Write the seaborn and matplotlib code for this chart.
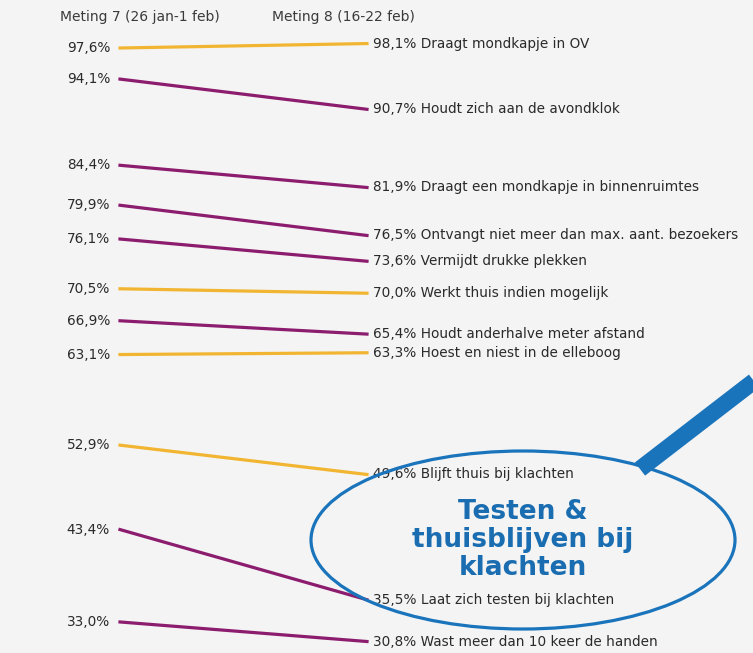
import pandas as pd
import seaborn as sns
import matplotlib.pyplot as plt
from matplotlib.patches import Ellipse

# Gegevens: naleving maatregelen, meting 7 en meting 8
maatregelen = [
    'Draagt mondkapje in OV',
    'Houdt zich aan de avondklok',
    'Draagt een mondkapje in binnenruimtes',
    'Ontvangt niet meer dan max. aant. bezoekers',
    'Vermijdt drukke plekken',
    'Werkt thuis indien mogelijk',
    'Houdt anderhalve meter afstand',
    'Hoest en niest in de elleboog',
    'Blijft thuis bij klachten',
    'Laat zich testen bij klachten',
    'Wast meer dan 10 keer de handen',
]
meting7 = [97.6, 94.1, 84.4, 79.9, 76.1, 70.5, 66.9, 63.1, 52.9, 43.4, 33.0]
meting8 = [98.1, 90.7, 81.9, 76.5, 73.6, 70.0, 65.4, 63.3, 49.6, 35.5, 30.8]
kleurgroep = ['oranje', 'paars', 'paars', 'paars', 'paars', 'oranje',
              'paars', 'oranje', 'oranje', 'paars', 'paars']
kopjes = ['Meting 7 (26 jan-1 feb)', 'Meting 8 (16-22 feb)']

kleuren = {'oranje': '#F2B532', 'paars': '#8C1C6E'}
palette = {m: kleuren[k] for m, k in zip(maatregelen, kleurgroep)}

# Lange tabel voor seaborn
df = pd.DataFrame({
    'maatregel': maatregelen * 2,
    'meting': [0] * len(maatregelen) + [1] * len(maatregelen),
    'waarde': meting7 + meting8,
})

def pct(v):
    return f'{v:.1f}'.replace('.', ',') + '%'

W, H = 753, 653
fig = plt.figure(figsize=(W / 100, H / 100), dpi=100, facecolor='#F4F4F4')
ax = fig.add_axes([0, 0, 1, 1])
ax.set_facecolor('#F4F4F4')

sns.lineplot(data=df, x='meting', y='waarde', hue='maatregel', palette=palette,
             linewidth=2.3, legend=False, ax=ax, estimator=None)

# pixel -> data schaal: x=0 op 120px, x=1 op 367px; 97,6 op 48px, 8,885 px per %
ax.set_xlim(-120 / 247, (W - 120) / 247)
ax.set_ylim(97.6 - (H - 48) / 8.885, 97.6 + 48 / 8.885)
ax.axis('off')

tekst = '#2a2a2a'
for m, a, b in zip(maatregelen, meting7, meting8):
    ax.text(-0.04, a, pct(a), ha='right', va='center', fontsize=9.8, color=tekst)
    ax.text(1.025, b, pct(b) + ' ' + m, ha='left', va='center', fontsize=9.8,
            color=tekst)

# Overlay in pixelcoordinaten voor kopjes en markering
ov = fig.add_axes([0, 0, 1, 1])
ov.set_xlim(0, W)
ov.set_ylim(H, 0)
ov.axis('off')
ov.patch.set_alpha(0)

ov.text(60, 17, kopjes[0], ha='left', va='center', fontsize=10, color='#3a3a3a')
ov.text(272, 17, kopjes[1], ha='left', va='center', fontsize=10, color='#3a3a3a')

ov.plot([775, 640], [365, 469], color='#1A74BC', linewidth=12, solid_capstyle='butt')
ov.add_patch(Ellipse((523, 540), 424, 178, fill=False, edgecolor='#1A74BC', linewidth=2.3))
ov.text(523, 540, 'Testen &\nthuisblijven bij\nklachten', ha='center', va='center',
        fontsize=19, fontweight='bold', color='#1A6DB0', linespacing=1.12)

plt.savefig('out.png', dpi=100, facecolor=fig.get_facecolor())
plt.close()
